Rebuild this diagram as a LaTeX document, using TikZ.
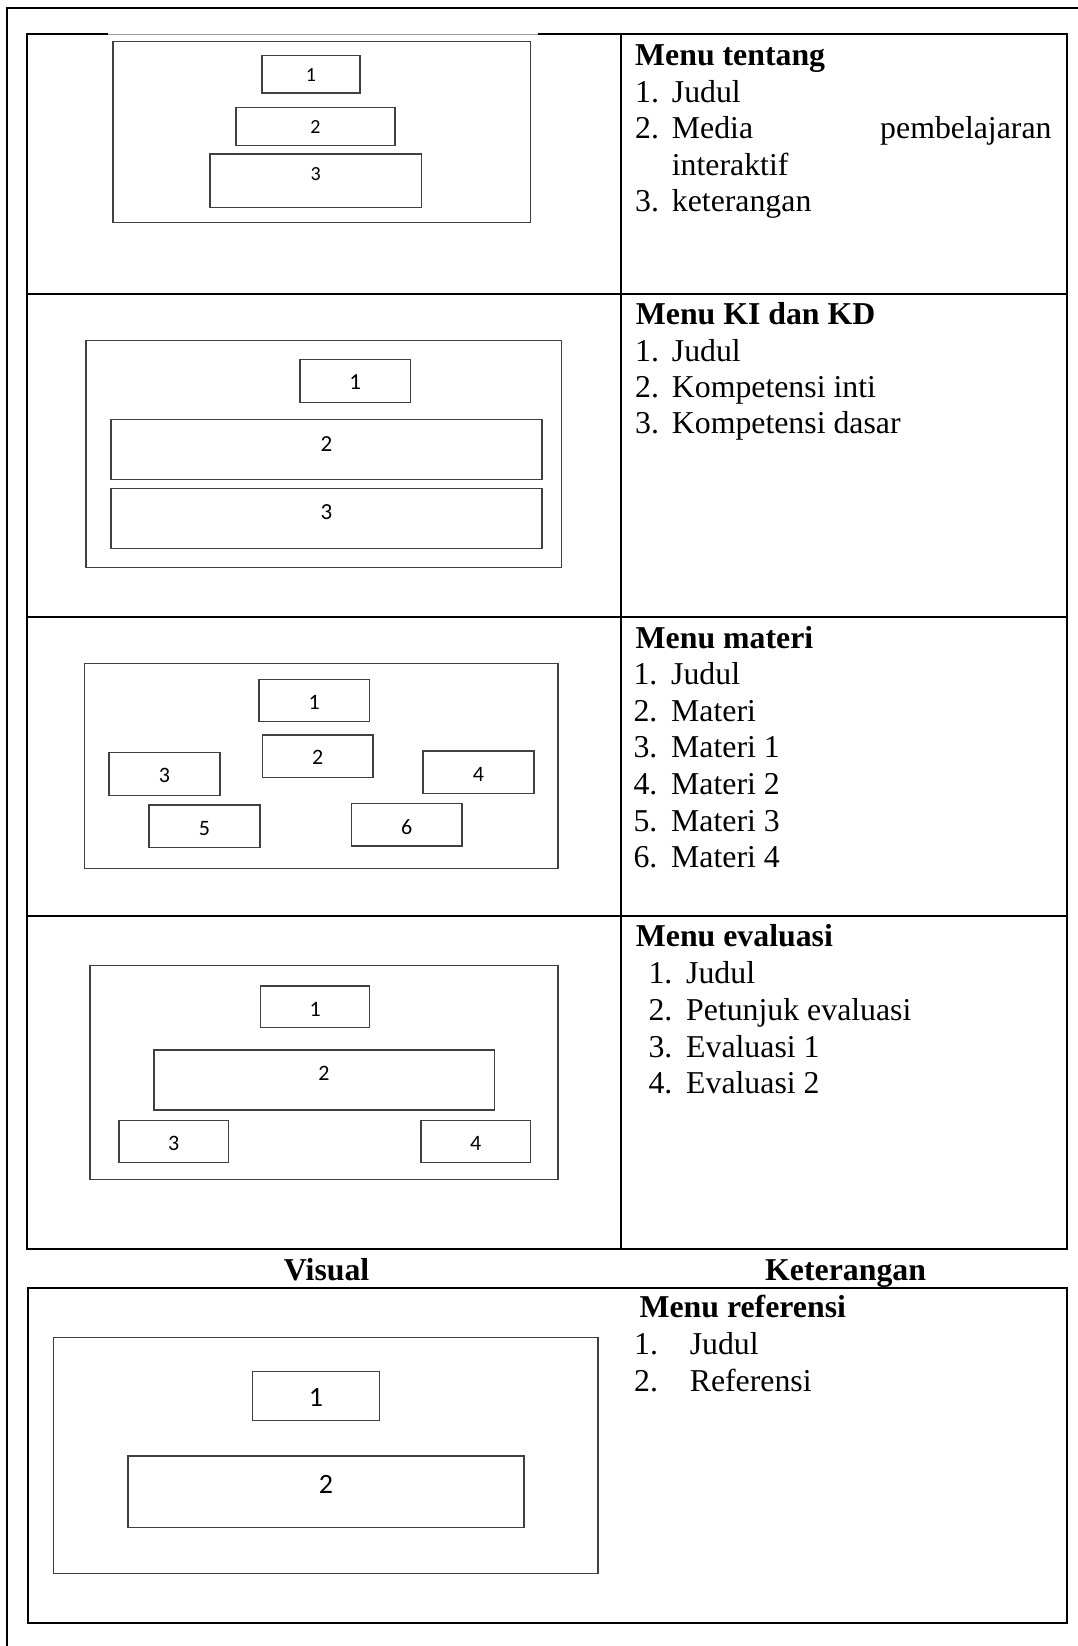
\documentclass[tikz,border=0pt]{standalone}
\usepackage{fontspec}
\setmainfont{Liberation Serif}
\newfontfamily\digitfont{Carlito}
\newcommand{\lblsize}{22}
\newcommand{\uibx}[8]{% name, x1, y1, x2, y2, label, lx, ly
  \draw[uibox] (#2,#3) rectangle (#4,#5);
  \node[lbl] (#1) at (#7,#8) {#6};}
\newcommand{\listitem}[6]{% name, numx, textx, y, num, text
  \node[txt] (#1a) at (#2,#4) {#5.};
  \node[txt] (#1b) at (#3,#4) {#6};}
\begin{document}
\begin{tikzpicture}[x=1pt,y=-1pt,
  tbl/.style={line width=2pt, draw=black},
  frame/.style={line width=1.5pt, draw=black!75},
  uibox/.style={line width=1.5pt, draw=black!75},
  lbl/.style={inner sep=0pt, text=black, font=\digitfont\fontsize{\lblsize}{\lblsize}\selectfont},
  txt/.style={inner sep=0pt, anchor=base west, font=\fontsize{31.8}{36.7}\selectfont},
  hdr/.style={inner sep=0pt, anchor=base west, font=\bfseries\fontsize{31.8}{36.7}\selectfont},
  colhead/.style={inner sep=0pt, anchor=base, font=\bfseries\fontsize{31.8}{36.7}\selectfont}
]
\useasboundingbox (0,0) rectangle (1078,1646);
\fill[white] (0,0) rectangle (1078,1646);

% page frame
\draw[line width=2pt] (7,1646) -- (7,8.3) -- (1078,8.3);

% main table
\draw[tbl] (108,34.3) -- (27,34.3) -- (27,1249.3) -- (1067,1249.3) -- (1067,34.3) -- (538,34.3);
\draw[line width=0.8pt, black!40] (108,34.3) -- (538,34.3);
\draw[tbl] (27,294) -- (1067,294);
\draw[tbl] (27,616.7) -- (1067,616.7);
\draw[tbl] (27,916.3) -- (1067,916.3);
\draw[tbl] (621,34.3) -- (621,1249.3);

% ---- row 1 visual
\renewcommand{\lblsize}{20}
\draw[frame] (113,41.7) rectangle (530.6,222.7);
\uibx{ra1}{262}{55.3}{360}{93}{1}{311}{75}
\uibx{ra2}{236}{107.7}{395}{145.7}{2}{315.5}{127.5}
\uibx{ra3}{210}{154}{421.5}{207.3}{3}{315.7}{174.5}

% ---- row 2 visual
\renewcommand{\lblsize}{23}
\draw[frame] (86.2,340.7) rectangle (561.5,567.3);
\uibx{rb1}{300}{359.7}{410.4}{402.7}{1}{355.2}{382}
\uibx{rb2}{111}{419.3}{542}{479.7}{2}{326.5}{444}
\uibx{rb3}{111}{488.3}{542}{548.3}{3}{326.5}{512.2}

% ---- row 3 visual
\renewcommand{\lblsize}{22}
\draw[frame] (84.6,663.3) rectangle (558,868.3);
\uibx{rc1}{259}{679.3}{369.7}{721.7}{1}{314.3}{702}
\uibx{rc2}{262.6}{735}{372.9}{777.7}{2}{317.7}{757.5}
\uibx{rc3}{109}{752.7}{219.8}{795.3}{3}{164.4}{775}
\uibx{rc4}{423}{751}{533.8}{793.3}{4}{478.4}{774}
\uibx{rc5}{149}{805}{259.8}{847.7}{5}{204.4}{829}
\uibx{rc6}{351.5}{803.3}{461.8}{846}{6}{406.6}{827.5}

% ---- row 4 visual
\draw[frame] (90,965.3) rectangle (558,1179.3);
\uibx{rd1}{260.6}{986}{369.7}{1027.3}{1}{315.1}{1009}
\uibx{rd2}{153.8}{1050}{494.3}{1110}{2}{324}{1073.8}
\uibx{rd3}{119}{1120.3}{228.5}{1162.7}{3}{173.7}{1143.2}
\uibx{rd4}{421}{1120.3}{530.6}{1162.7}{4}{475.8}{1143.2}

% ---- texts, right column
\node[hdr] (ha) at (635,66) {Menu tentang};
\listitem{ta1}{635}{671.7}{102.5}{1}{Judul}
\listitem{ta2}{635}{671.7}{138.5}{2}{Media}
\node[txt, anchor=base east] (ta2c) at (1051.7,138.5) {pembelajaran};
\node[txt] (ta2d) at (671.7,175) {interaktif};
\listitem{ta3}{635}{671.7}{211.5}{3}{keterangan}

\node[hdr] (hb) at (635.7,324.3) {Menu KI dan KD};
\listitem{tb1}{635}{671.7}{361}{1}{Judul}
\listitem{tb2}{635}{671.7}{397.3}{2}{Kompetensi inti}
\listitem{tb3}{635}{671.7}{433.7}{3}{Kompetensi dasar}

\node[hdr] (hc) at (635.5,648.3) {Menu materi};
\listitem{tc1}{633.3}{671}{684.3}{1}{Judul}
\listitem{tc2}{633.3}{671}{721}{2}{Materi}
\listitem{tc3}{633.3}{671}{757.7}{3}{Materi 1}
\listitem{tc4}{633.3}{671}{794.3}{4}{Materi 2}
\listitem{tc5}{633.3}{671}{831}{5}{Materi 3}
\listitem{tc6}{633.3}{671}{867.7}{6}{Materi 4}

\node[hdr] (hd) at (635.7,946) {Menu evaluasi};
\listitem{td1}{648.3}{686}{983.7}{1}{Judul}
\listitem{td2}{648.3}{686}{1020.3}{2}{Petunjuk evaluasi}
\listitem{td3}{648.3}{686}{1057}{3}{Evaluasi 1}
\listitem{td4}{648.3}{686}{1093.7}{4}{Evaluasi 2}

% column headings
\node[colhead] (cv) at (326.6,1280) {Visual};
\node[colhead] (ck) at (845.6,1280) {Keterangan};

% ---- bottom table
\draw[tbl] (27.5,1288) rectangle (1067,1622.7);
\renewcommand{\lblsize}{28}
\draw[frame] (53.6,1337.3) rectangle (598,1573.3);
\uibx{re1}{252.3}{1371.7}{379.5}{1420.7}{1}{315.9}{1397.5}
\uibx{re2}{127.9}{1456}{523.9}{1527.3}{2}{325.9}{1484.5}

\node[hdr] (he) at (639.4,1317.7) {Menu referensi};
\listitem{te1}{634}{689.6}{1354.3}{1}{Judul}
\listitem{te2}{634}{689.6}{1391.7}{2}{Referensi}
\end{tikzpicture}
\end{document}
